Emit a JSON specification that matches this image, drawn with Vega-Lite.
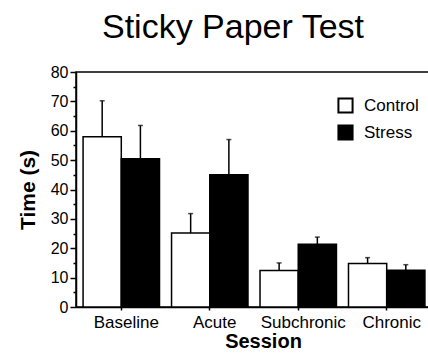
{
  "$schema": "https://vega.github.io/schema/vega-lite/v6.json",
  "autosize": "none",
  "padding": {"left": 76, "top": 72, "right": 0, "bottom": 57},
  "width": 356,
  "height": 235,
  "background": "white",
  "config": {
    "font": "Liberation Sans",
    "view": {"stroke": "black", "strokeWidth": 1.5},
    "axis": {"grid": false, "labelOverlap": false, "domainColor": "black", "domainWidth": 1.5, "tickColor": "black", "tickWidth": 1.5, "labelColor": "black", "titleColor": "black", "labelFont": "Liberation Sans", "titleFont": "Liberation Sans"},
    "axisY": {"labelOverlap": false}
  },
  "title": {
    "text": "Sticky Paper Test",
    "font": "Liberation Sans",
    "fontSize": 34,
    "fontWeight": "normal",
    "color": "black",
    "anchor": "start",
    "frame": "group",
    "dx": 26,
    "offset": 19
  },
  "data": {
    "values": [
      {"session": "Baseline", "group": "Control", "time": 58.0, "upper": 70.2},
      {"session": "Baseline", "group": "Stress", "time": 50.5, "upper": 61.8},
      {"session": "Acute", "group": "Control", "time": 25.2, "upper": 31.8},
      {"session": "Acute", "group": "Stress", "time": 45.0, "upper": 57.0},
      {"session": "Subchronic", "group": "Control", "time": 12.4, "upper": 15.0},
      {"session": "Subchronic", "group": "Stress", "time": 21.4, "upper": 23.8},
      {"session": "Chronic", "group": "Control", "time": 14.8, "upper": 16.8},
      {"session": "Chronic", "group": "Stress", "time": 12.5, "upper": 14.4}
    ]
  },
  "encoding": {
    "x": {
      "field": "session",
      "type": "nominal",
      "sort": ["Baseline", "Acute", "Subchronic", "Chronic"],
      "scale": {"paddingInner": 0.136, "paddingOuter": 0.08},
      "axis": {
        "title": "Session",
        "titleFontSize": 20,
        "titleFontWeight": "bold",
        "titleX": 187,
        "titlePadding": 1,
        "labelFontSize": 17,
        "labelAngle": 0,
        "labelOffset": 5,
        "labelPadding": 4,
        "tickSize": 3
      }
    },
    "xOffset": {"field": "group", "type": "nominal", "sort": ["Control", "Stress"], "scale": {"paddingInner": 0, "paddingOuter": 0}},
    "y": {
      "field": "time",
      "type": "quantitative",
      "scale": {"domain": [0, 80], "nice": false},
      "axis": {
        "title": "Time (s)",
        "titleFontSize": 21,
        "titleFontWeight": "bold",
        "titlePadding": 12,
        "values": [0, 5, 10, 15, 20, 25, 30, 35, 40, 45, 50, 55, 60, 65, 70, 75, 80],
        "labelExpr": "datum.value % 10 === 0 ? datum.label : ''",
        "labelOverlap": false,
        "labelFontSize": 16,
        "labelPadding": 2,
        "tickSize": {"condition": {"test": "datum.value % 10 === 0", "value": 6}, "value": 3}
      }
    }
  },
  "layer": [
    {
      "mark": {"type": "bar", "stroke": "black", "strokeWidth": 1.5},
      "encoding": {
        "fill": {
          "field": "group",
          "type": "nominal",
          "sort": ["Control", "Stress"],
          "scale": {"domain": ["Control", "Stress"], "range": ["white", "black"]},
          "legend": {
            "title": null,
            "orient": "none",
            "legendX": 261,
            "legendY": 25,
            "padding": 0,
            "symbolType": "square",
            "symbolSize": 200,
            "symbolStrokeColor": "black",
            "symbolStrokeWidth": 2,
            "labelFontSize": 17,
            "labelColor": "black",
            "labelOffset": 10,
            "rowPadding": 4
          }
        }
      }
    },
    {
      "mark": {"type": "rule", "color": "black", "strokeWidth": 1.5},
      "encoding": {
        "y2": {"field": "upper"}
      }
    },
    {
      "mark": {"type": "tick", "color": "black", "size": 5, "thickness": 1.5},
      "encoding": {
        "y": {"field": "upper", "type": "quantitative"}
      }
    }
  ]
}
